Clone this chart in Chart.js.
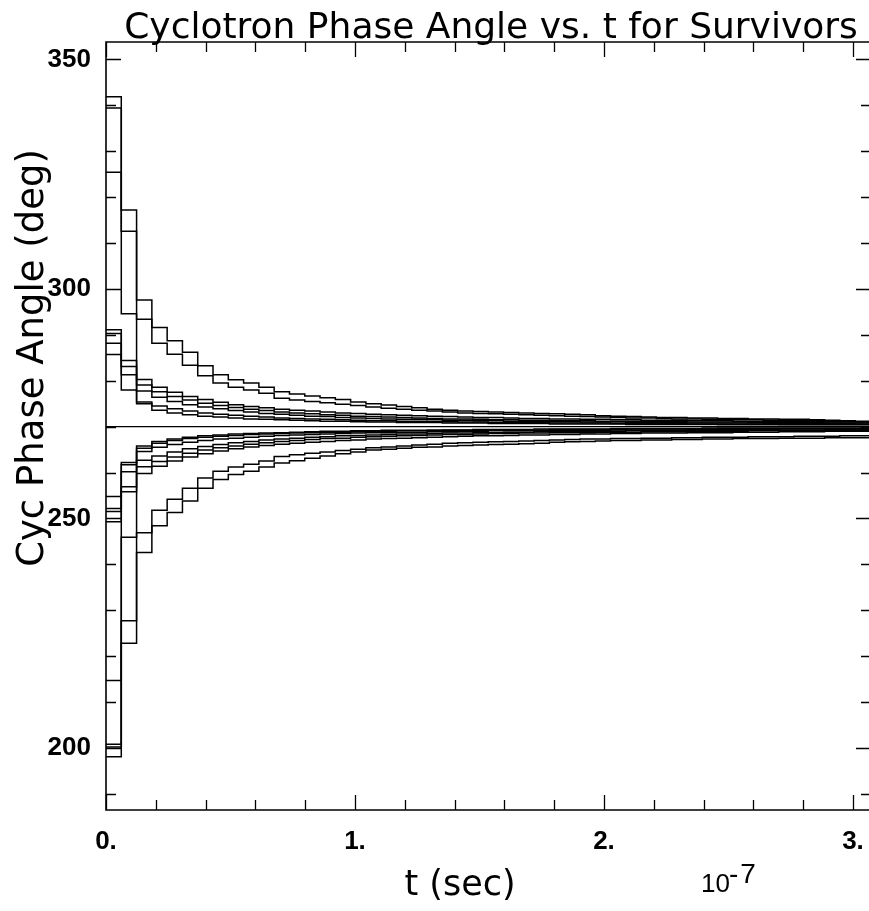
<!DOCTYPE html>
<html><head><meta charset="utf-8">
<script src="https://cdn.jsdelivr.net/npm/chart.js@4"></script>
<style>html,body{margin:0;padding:0;background:#fff;overflow:hidden;width:869px;height:911px}canvas{display:block}</style>
</head><body><canvas id="c" width="872" height="911"></canvas>
<script>
// time of each turn (units of 1e-7 s)
const times = [0,0.0614,0.1228,0.1842,0.2456,0.307,0.3684,0.4298,0.4912,0.5526,0.614,0.6754,0.7368,0.7982,0.8596,0.921,0.9824,1.0438,1.1052,1.1666,1.228,1.2894,1.3508,1.4122,1.4736,1.535,1.5964,1.6578,1.7192,1.7806,1.842,1.9034,1.9648,2.0262,2.0876,2.149,2.2104,2.2718,2.3332,2.3946,2.456,2.5174,2.5788,2.6402,2.7016,2.763,2.8244,2.8858,2.9472,3.0086,3.07];
// phases above 270
const phaseA = [341.9,317.2,297.6,291.6,288.7,286.2,283.3,281.3,280.2,279.5,278.6,277.6,277.1,276.7,276.3,275.9,275.4,275.0,274.7,274.4,274.1,273.8,273.6,273.4,273.3,273.2,273.1,273.0,272.9,272.8,272.7,272.6,272.4,272.3,272.2,272.1,272.0,272.0,271.9,271.9,271.8,271.8,271.7,271.7,271.6,271.6,271.5,271.4,271.3,271.2,271.2];
const phaseB = [339.4,312.6,293.4,288.2,285.8,283.4,281.1,279.5,278.6,278.0,277.3,276.2,275.8,275.5,275.2,274.9,274.6,274.3,274.0,273.8,273.6,273.4,273.2,273.0,272.9,272.8,272.7,272.6,272.5,272.4,272.3,272.2,272.1,272.0,271.9,271.9,271.8,271.7,271.7,271.6,271.6,271.5,271.5,271.4,271.4,271.3,271.3,271.2,271.2,271.1,271.1];
const phaseC = [325.4,294.6,280.3,278.6,277.5,276.6,275.9,275.3,274.8,274.4,274.1,273.8,273.6,273.4,273.2,273.0,272.9,272.7,272.6,272.5,272.4,272.3,272.2,272.1,272.0,272.0,271.9,271.8,271.8,271.7,271.7,271.6,271.6,271.5,271.5,271.4,271.4,271.4,271.3,271.3,271.3,271.2,271.2,271.2,271.1,271.1,271.1,271.0,271.0,271.0,271.0];
const phaseD = [291.1,284.4,279.1,277.6,276.6,275.8,275.1,274.6,274.2,273.8,273.5,273.2,273.0,272.8,272.6,272.5,272.3,272.2,272.1,272.0,271.9,271.8,271.7,271.7,271.6,271.5,271.5,271.4,271.4,271.3,271.3,271.3,271.2,271.2,271.2,271.1,271.1,271.1,271.0,271.0,271.0,271.0,270.9,270.9,270.9,270.9,270.9,270.8,270.8,270.8,270.8];
const phaseE = [290.3,283.1,277.8,276.4,275.5,274.8,274.3,273.9,273.5,273.2,272.9,272.7,272.5,272.3,272.2,272.0,271.9,271.8,271.7,271.6,271.6,271.5,271.4,271.4,271.3,271.3,271.2,271.2,271.1,271.1,271.1,271.0,271.0,271.0,270.9,270.9,270.9,270.9,270.8,270.8,270.8,270.8,270.8,270.7,270.7,270.7,270.7,270.7,270.7,270.6,270.6];
const phaseF = [288.2,281.3,275.4,274.5,273.9,273.4,273.0,272.7,272.5,272.3,272.1,271.9,271.8,271.7,271.6,271.5,271.4,271.3,271.3,271.2,271.2,271.1,271.1,271.0,271.0,270.9,270.9,270.9,270.9,270.8,270.8,270.8,270.8,270.7,270.7,270.7,270.7,270.7,270.6,270.6,270.6,270.6,270.6,270.6,270.5,270.5,270.5,270.5,270.5,270.5,270.5];
const phaseG = [285.7,278.0,275.0,273.6,273.0,272.6,272.3,272.1,271.9,271.7,271.6,271.5,271.4,271.3,271.2,271.2,271.1,271.0,271.0,270.9,270.9,270.9,270.8,270.8,270.8,270.7,270.7,270.7,270.7,270.6,270.6,270.6,270.6,270.6,270.5,270.5,270.5,270.5,270.5,270.5,270.4,270.4,270.4,270.4,270.4,270.4,270.4,270.4,270.4,270.4,270.4];
// phases below 270
const phaseA2 = [198.1,222.8,242.6,248.4,251.3,253.8,256.6,258.5,259.6,260.3,261.2,262.1,262.6,263.1,263.6,264.1,264.5,264.9,265.1,265.3,265.5,265.6,265.8,265.9,266.0,266.1,266.2,266.3,266.4,266.6,266.7,266.8,266.9,267.0,267.0,267.1,267.1,267.2,267.2,267.3,267.3,267.4,267.4,267.4,267.5,267.5,267.5,267.6,267.6,267.6,267.6];
const phaseB2 = [200.2,227.7,246.9,251.8,254.2,256.6,258.8,260.3,261.2,261.8,262.5,263.5,263.9,264.2,264.5,264.8,265.1,265.4,265.6,265.8,266.0,266.2,266.4,266.5,266.6,266.7,266.8,266.9,267.0,267.1,267.2,267.3,267.3,267.4,267.4,267.5,267.5,267.6,267.6,267.7,267.7,267.7,267.8,267.8,267.8,267.9,267.9,267.9,268.0,268.0,268.0];
const phaseB3 = [200.8,245.9,259.8,261.4,262.5,263.4,264.1,264.7,265.2,265.6,265.9,266.2,266.4,266.6,266.8,267.0,267.1,267.3,267.4,267.5,267.6,267.7,267.8,267.9,268.0,268.0,268.1,268.2,268.2,268.3,268.3,268.4,268.4,268.5,268.5,268.6,268.6,268.6,268.7,268.7,268.7,268.8,268.8,268.8,268.9,268.9,268.9,269.0,269.0,269.0,269.0];
const phaseC2 = [214.7,255.8,261.3,262.4,263.4,264.2,264.9,265.4,265.8,266.2,266.5,266.8,267.0,267.2,267.4,267.5,267.7,267.8,267.9,268.0,268.1,268.2,268.3,268.3,268.4,268.5,268.5,268.6,268.6,268.7,268.7,268.7,268.8,268.8,268.8,268.9,268.9,268.9,269.0,269.0,269.0,269.0,269.1,269.1,269.1,269.1,269.1,269.2,269.2,269.2,269.2];
const phaseD2 = [249.3,256.9,262.7,263.6,264.5,265.2,265.7,266.1,266.5,266.8,267.1,267.3,267.5,267.7,267.8,268.0,268.1,268.2,268.3,268.4,268.4,268.5,268.6,268.6,268.7,268.7,268.8,268.8,268.9,268.9,268.9,269.0,269.0,269.0,269.1,269.1,269.1,269.1,269.2,269.2,269.2,269.2,269.2,269.3,269.3,269.3,269.3,269.3,269.3,269.4,269.4];
const phaseE2 = [251.5,260.2,264.6,265.5,266.1,266.6,267.0,267.3,267.5,267.7,267.9,268.1,268.2,268.3,268.4,268.5,268.6,268.7,268.7,268.8,268.8,268.9,268.9,269.0,269.0,269.1,269.1,269.1,269.1,269.2,269.2,269.2,269.2,269.3,269.3,269.3,269.3,269.3,269.4,269.4,269.4,269.4,269.4,269.4,269.5,269.5,269.5,269.5,269.5,269.5,269.5];
const phaseF2 = [252.2,261.7,265.3,266.4,267.0,267.4,267.7,267.9,268.1,268.3,268.4,268.5,268.6,268.7,268.8,268.8,268.9,269.0,269.0,269.1,269.1,269.1,269.2,269.2,269.2,269.3,269.3,269.3,269.3,269.4,269.4,269.4,269.4,269.4,269.5,269.5,269.5,269.5,269.5,269.5,269.6,269.6,269.6,269.6,269.6,269.6,269.6,269.6,269.6,269.6,269.6];
const phaseG2 = [254.8,262.2,265.8,266.8,267.3,267.7,268.0,268.2,268.4,268.5,268.6,268.7,268.8,268.9,269.0,269.0,269.1,269.1,269.2,269.2,269.2,269.3,269.3,269.3,269.4,269.4,269.4,269.4,269.5,269.5,269.5,269.5,269.5,269.6,269.6,269.6,269.6,269.6,269.6,269.7,269.7,269.7,269.7,269.7,269.7,269.7,269.7,269.7,269.7,269.7,269.7];
// reference particle
const refTimes = [0, 3.08];
const refPhase = [270, 270];

const xTickLabels = ['0.', '1.', '2.', '3.'];
const xMajor = [0, 1, 2, 3];
const xMinor = [0.2,0.4,0.6,0.8,1.2,1.4,1.6,1.8,2.2,2.4,2.6,2.8];
const yMajor = [200, 250, 300, 350];
const yMinor = [190,210,220,230,240,260,270,280,290,310,320,330,340];
const chartTitle = 'Cyclotron Phase Angle vs. t for Survivors';
const xTitle = 't (sec)';
const yTitle = 'Cyc Phase Angle (deg)';
const xScaleBase = '10';
const xScaleExp = '-7';

const series = [phaseA, phaseB, phaseC, phaseD, phaseE, phaseF, phaseG,
                phaseA2, phaseB2, phaseB3, phaseC2, phaseD2, phaseE2, phaseF2, phaseG2];
const datasets = series.map(arr => ({
  data: times.map((t, i) => ({x: t, y: arr[i]})),
  borderColor: '#000', borderWidth: 1.5, pointRadius: 0, stepped: true, fill: false
}));
datasets.push({
  data: refTimes.map((t, i) => ({x: t, y: refPhase[i]})),
  borderColor: '#000', borderWidth: 1.3, pointRadius: 0, fill: false
});

const framePlugin = {
  id: 'frame',
  afterDraw(chart) {
    const {ctx, chartArea, scales} = chart;
    const x = scales.x, y = scales.y;
    const L = x.getPixelForValue(0), R = chartArea.right - 1, T = chartArea.top, B = chartArea.bottom;
    ctx.save();
    ctx.strokeStyle = '#000';
    ctx.lineWidth = 1.6;
    ctx.beginPath();
    ctx.moveTo(L, T); ctx.lineTo(R, T); ctx.lineTo(R, B); ctx.lineTo(L, B); ctx.closePath();
    ctx.stroke();
    ctx.lineWidth = 1.3;
    ctx.beginPath();
    const xt = (v, len) => { const p = Math.round(x.getPixelForValue(v)) + 0.5; ctx.moveTo(p, B); ctx.lineTo(p, B - len); ctx.moveTo(p, T); ctx.lineTo(p, T + len); };
    const yt = (v, len) => { const p = Math.round(y.getPixelForValue(v)) + 0.5; ctx.moveTo(L, p); ctx.lineTo(L + len, p); ctx.moveTo(R, p); ctx.lineTo(R - len, p); };
    xMajor.forEach(v => xt(v, 15)); xMinor.forEach(v => xt(v, 10));
    yMajor.forEach(v => yt(v, 15)); yMinor.forEach(v => yt(v, 10));
    ctx.stroke();
    ctx.fillStyle = '#000';
    ctx.textBaseline = 'alphabetic';
    ctx.textAlign = 'center';
    ctx.font = '36px "DejaVu Sans"';
    ctx.fillText(chartTitle, 491, 38);
    ctx.font = '35px "DejaVu Sans"';
    ctx.fillText(xTitle, 460, 895);
    ctx.textAlign = 'left';
    ctx.font = '26px "Liberation Sans"';
    ctx.fillText(xScaleBase, 701, 892);
    ctx.font = '28px "Liberation Sans"';
    try { ctx.letterSpacing = '2px'; } catch (e) {}
    ctx.fillText(xScaleExp, 729, 883);
    try { ctx.letterSpacing = '0px'; } catch (e) {}
    ctx.save();
    ctx.translate(43, 358);
    ctx.rotate(-Math.PI / 2);
    ctx.textAlign = 'center';
    ctx.font = '37px "DejaVu Sans"';
    ctx.fillText(yTitle, 0, 0);
    ctx.restore();
    ctx.restore();
  }
};

new Chart(document.getElementById('c'), {
  type: 'line',
  data: {datasets},
  options: {
    responsive: false, animation: false, events: [],
    layout: {padding: {top: 42, right: 0, left: 0, bottom: 0}},
    plugins: {legend: {display: false}, tooltip: {enabled: false}, title: {display: false}},
    scales: {
      x: {
        type: 'linear', min: 0, max: 3.0763,
        border: {display: false},
        grid: {display: false, drawTicks: false},
        afterFit(s) { s.height = 101; s.paddingRight = 0; s.paddingLeft = 0; },
        ticks: {
          stepSize: 1, includeBounds: false, autoSkip: false, maxRotation: 0, padding: 16,
          color: '#000', font: {family: '"Liberation Sans"', size: 26, weight: 'bold'},
          callback: v => xTickLabels[xMajor.indexOf(v)] ?? ''
        }
      },
      y: {
        type: 'linear', min: 186.5, max: 353.8,
        border: {display: false},
        grid: {display: false, drawTicks: false},
        afterFit(s) { s.width = 106; s.paddingTop = 0; s.paddingBottom = 0; },
        ticks: {
          stepSize: 50, includeBounds: false, autoSkip: false, padding: 15,
          color: '#000', font: {family: '"Liberation Sans"', size: 26, weight: 'bold'},
          callback: v => yMajor.includes(v) ? String(v) : ''
        }
      }
    }
  },
  plugins: [framePlugin]
});
</script></body></html>
